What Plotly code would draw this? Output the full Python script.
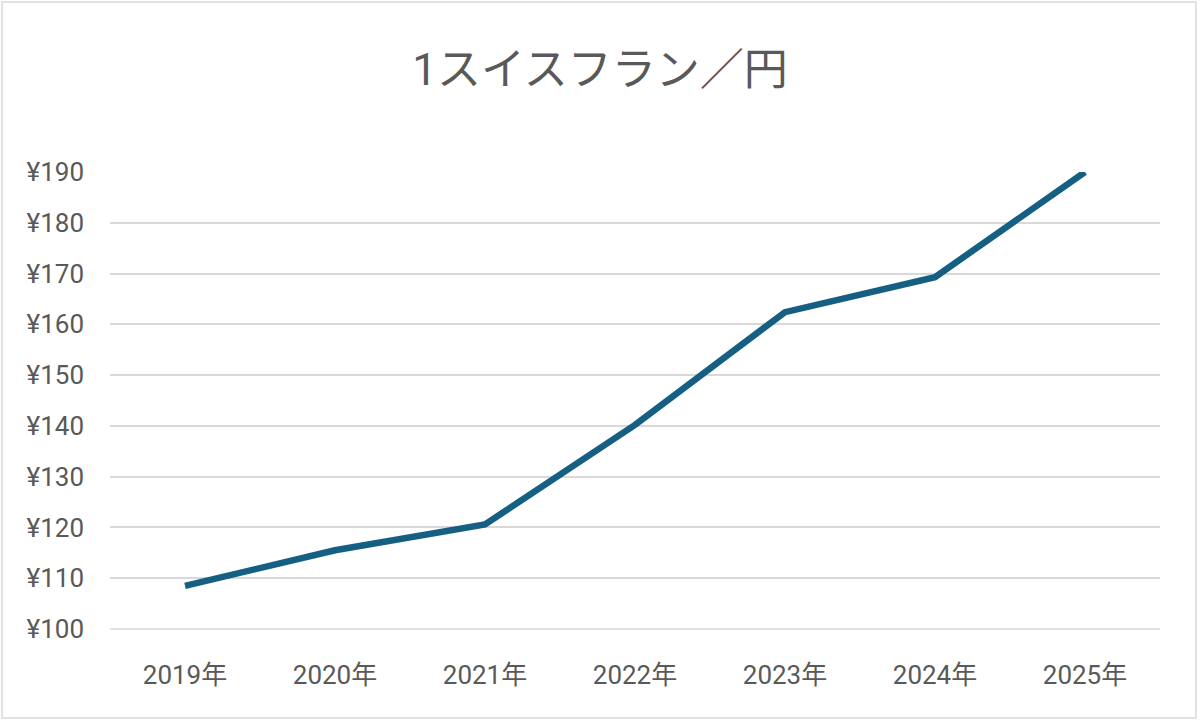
import plotly.graph_objects as go

years = ["2019年", "2020年", "2021年", "2022年", "2023年", "2024年", "2025年"]
rates = [108.5, 115.5, 120.6, 140.2, 162.4, 169.3, 190.0]
y_ticks = [100, 110, 120, 130, 140, 150, 160, 170, 180, 190]
y_labels = ["¥" + str(v) for v in y_ticks]

W, H = 1200, 725
L, R, T, B = 110, 40, 172, 96
pw, ph = W - L - R, H - T - B

def px(x):
    return (x - L) / pw

def py(y):
    return (H - B - y) / ph

FONT = "Roboto, Noto Sans CJK JP"
GRAY = "#595959"

fig = go.Figure()
fig.add_trace(go.Scatter(
    x=years, y=rates, mode="lines",
    line=dict(color="#156082", width=6.5),
    cliponaxis=False,
    hoverinfo="x+y",
))

fig.update_layout(
    width=W, height=H,
    margin=dict(l=L, r=R, t=T, b=B),
    paper_bgcolor="white", plot_bgcolor="white",
    showlegend=False,
    font=dict(family=FONT, color=GRAY),
    title=dict(text="1スイスフラン／円", x=0.5, xanchor="center",
               y=1 - 70 / H, yanchor="middle",
               font=dict(family=FONT, size=44, color=GRAY)),
    xaxis=dict(type="category", range=[-0.5, 6.5], showgrid=False,
               showline=False, zeroline=False, ticks="",
               tickfont=dict(size=26, color=GRAY), ticklabelstandoff=28),
    yaxis=dict(range=[100, 190], tickvals=y_ticks, ticktext=y_labels,
               showgrid=True, gridcolor="#d9d9d9", gridwidth=1.5,
               zeroline=False, showline=False, ticks="",
               tickfont=dict(size=26, color=GRAY), ticklabelstandoff=25),
    shapes=[
        dict(type="line", xref="paper", yref="paper",
             x0=0, x1=1, y0=0, y1=0, line=dict(color="#d9d9d9", width=1.5), layer="below"),
        dict(type="rect", xref="paper", yref="paper",
             x0=px(2), x1=px(1196), y0=py(718), y1=py(2),
             line=dict(color="#d9d9d9", width=1.5)),
    ],
)

fig.write_html("out.html", config={"displayModeBar": False},
               post_script="document.body.style.margin='0';")
